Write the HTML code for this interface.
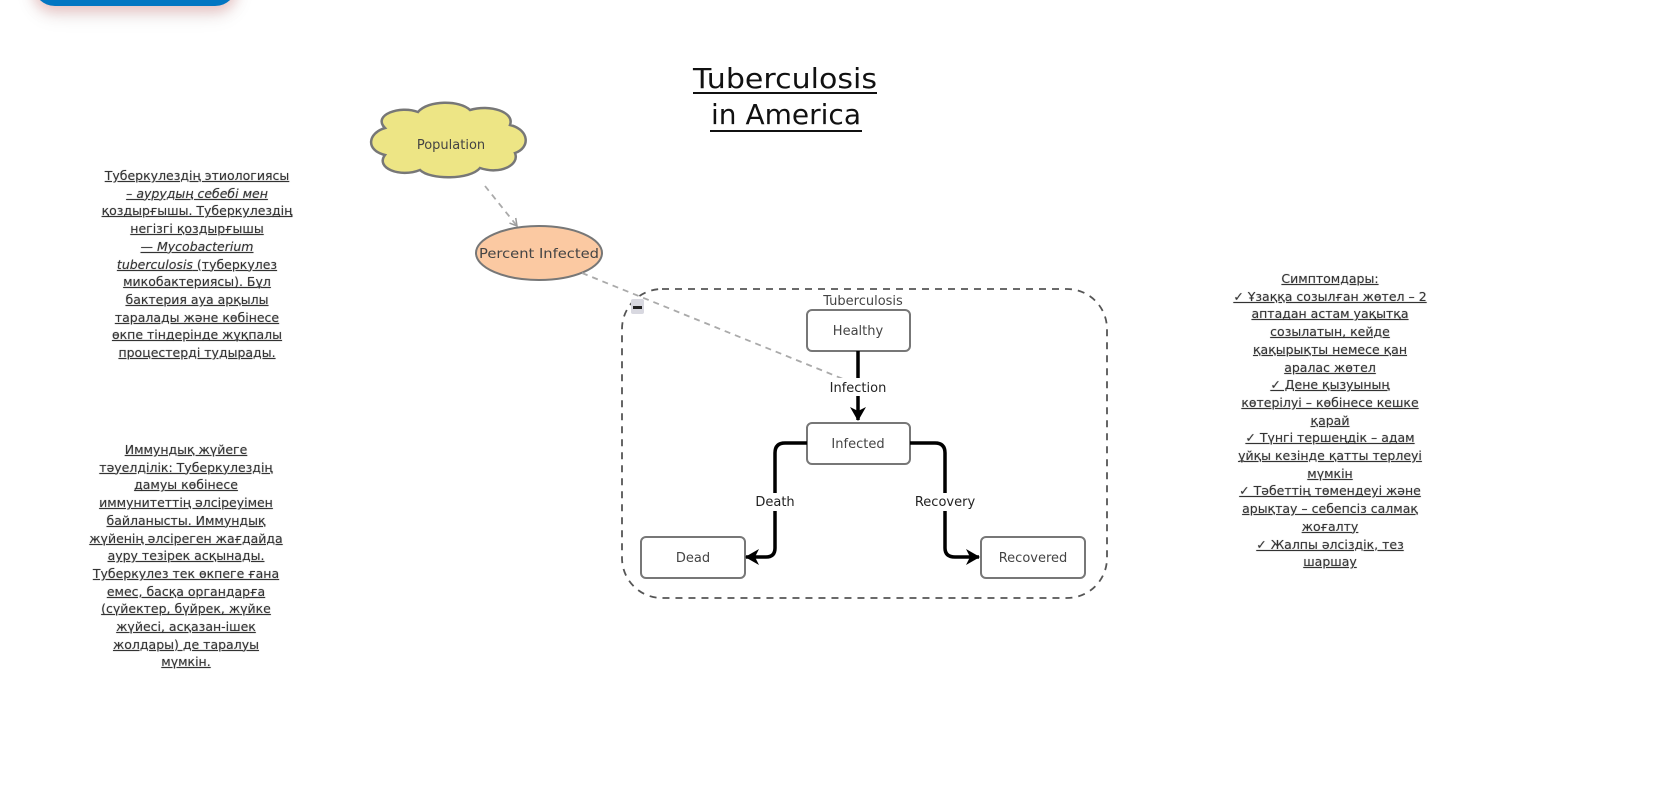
<!DOCTYPE html>
<html><head><meta charset="utf-8"><style>
html,body{margin:0;padding:0;background:#fff;}
body{width:1665px;height:808px;position:relative;overflow:hidden;font-family:"DejaVu Sans","Liberation Sans",sans-serif;}
.btn{position:absolute;left:33px;top:-40px;width:204px;height:46px;background:#0276c2;border-radius:0 0 22px 22px;box-shadow:0 6px 12px rgba(220,120,120,.35),0 10px 20px rgba(0,0,0,.08);}
.note{position:absolute;text-align:center;font-size:12.5px;line-height:17.7px;color:#333;text-decoration:underline;text-shadow:0 0 1px #999;}
</style></head><body>
<div class="btn"></div>
<svg width="1665" height="808" style="position:absolute;left:0;top:0" font-family="DejaVu Sans, Liberation Sans, sans-serif">
<defs>
<marker id="ga" markerWidth="10" markerHeight="10" refX="8" refY="5" orient="auto" markerUnits="userSpaceOnUse"><path d="M1,1 L8,5 L1,9" fill="none" stroke="#999" stroke-width="1.5"/></marker>
<marker id="ba" markerWidth="16" markerHeight="16" refX="13" refY="8" orient="auto" markerUnits="userSpaceOnUse"><path d="M0,0 L14,8 L0,16 L4,8 Z" fill="#000"/></marker>
</defs>
<text x="785" y="88" font-size="28" text-anchor="middle" textLength="184" lengthAdjust="spacingAndGlyphs" fill="#111">Tuberculosis</text>
<line x1="693" y1="93" x2="877" y2="93" stroke="#111" stroke-width="2"/>
<text x="786" y="124" font-size="28" text-anchor="middle" textLength="150" lengthAdjust="spacingAndGlyphs" fill="#111">in America</text>
<line x1="710" y1="131" x2="862" y2="131" stroke="#111" stroke-width="2"/>
<path d="M385,128 C372,115 400,105 418,112 C428,100 460,100 470,110 C490,104 515,112 510,125 C530,130 530,148 515,153 C520,165 500,175 480,168 C470,180 430,180 420,170 C400,178 375,168 385,155 C365,150 368,133 385,128 Z" fill="#ede585" stroke="#777" stroke-width="2.5"/>
<text x="451" y="149" font-size="13" text-anchor="middle" fill="#444">Population</text>
<line x1="485" y1="186" x2="517" y2="226" stroke="#aaa" stroke-width="1.8" stroke-dasharray="6,5" marker-end="url(#ga)"/>
<ellipse cx="539" cy="253" rx="63" ry="27" fill="#fbc9a2" stroke="#777" stroke-width="2"/>
<text x="539" y="258" font-size="13" text-anchor="middle" fill="#444" textLength="120" lengthAdjust="spacingAndGlyphs">Percent Infected</text>
<rect x="622" y="289" width="485" height="309" rx="40" fill="none" stroke="#555" stroke-width="1.8" stroke-dasharray="7,6"/>
<rect x="631" y="299" width="13" height="15" rx="2" fill="#d8d8e0"/>
<rect x="633" y="306" width="9" height="3" fill="#222"/>
<line x1="582" y1="273" x2="858" y2="385" stroke="#aaa" stroke-width="1.8" stroke-dasharray="6,5"/>
<text x="863" y="305" font-size="13" text-anchor="middle" fill="#444">Tuberculosis</text>
<g fill="#fff" stroke="#777" stroke-width="2">
<rect x="807" y="310" width="103" height="41" rx="5"/>
<rect x="807" y="423" width="103" height="41" rx="5"/>
<rect x="641" y="537" width="104" height="41" rx="5"/>
<rect x="981" y="537" width="104" height="41" rx="5"/>
</g>
<g font-size="13" text-anchor="middle" fill="#444">
<text x="858" y="335">Healthy</text>
<text x="858" y="448">Infected</text>
<text x="693" y="562">Dead</text>
<text x="1033" y="562">Recovered</text>
</g>
<g stroke="#000" stroke-width="3.5" fill="none">
<path d="M858,351 L858,420" marker-end="url(#ba)"/>
<path d="M807,443 L785,443 Q775,443 775,453 L775,548 Q775,557 766,557 L746,557" marker-end="url(#ba)"/>
<path d="M910,443 L935,443 Q945,443 945,453 L945,548 Q945,557 955,557 L979,557" marker-end="url(#ba)"/>
</g>
<rect x="825" y="378" width="66" height="18" fill="#fff"/>
<rect x="750" y="493" width="50" height="18" fill="#fff"/>
<rect x="913" y="493" width="64" height="18" fill="#fff"/>
<g font-size="13" text-anchor="middle" fill="#222">
<text x="858" y="392">Infection</text>
<text x="775" y="506">Death</text>
<text x="945" y="506">Recovery</text>
</g>
</svg>
<div class="note" style="left:77px;top:167px;width:240px;">Туберкулездің этиологиясы<br><i>– аурудың себебі мен</i><br>қоздырғышы. Туберкулездің<br>негізгі қоздырғышы<br><i>— Mycobacterium</i><br><i>tuberculosis</i> (туберкулез<br>микобактериясы). Бұл<br>бактерия ауа арқылы<br>таралады және көбінесе<br>өкпе тіндерінде жұқпалы<br>процестерді тудырады.</div>
<div class="note" style="left:66px;top:441px;width:240px;">Иммундық жүйеге<br>тәуелділік: Туберкулездің<br>дамуы көбінесе<br>иммунитеттің әлсіреуімен<br>байланысты. Иммундық<br>жүйенің әлсіреген жағдайда<br>ауру тезірек асқынады.<br>Туберкулез тек өкпеге ғана<br>емес, басқа органдарға<br>(сүйектер, бүйрек, жүйке<br>жүйесі, асқазан-ішек<br>жолдары) де таралуы<br>мүмкін.</div>
<div class="note" style="left:1200px;top:270px;width:260px;">Симптомдары:<br>✓ Ұзаққа созылған жөтел – 2<br>аптадан астам уақытқа<br>созылатын, кейде<br>қақырықты немесе қан<br>аралас жөтел<br>✓ Дене қызуының<br>көтерілуі – көбінесе кешке<br>қарай<br>✓ Түнгі тершеңдік – адам<br>ұйқы кезінде қатты терлеуі<br>мүмкін<br>✓ Тәбеттің төмендеуі және<br>арықтау – себепсіз салмақ<br>жоғалту<br>✓ Жалпы әлсіздік, тез<br>шаршау</div>
</body></html>
